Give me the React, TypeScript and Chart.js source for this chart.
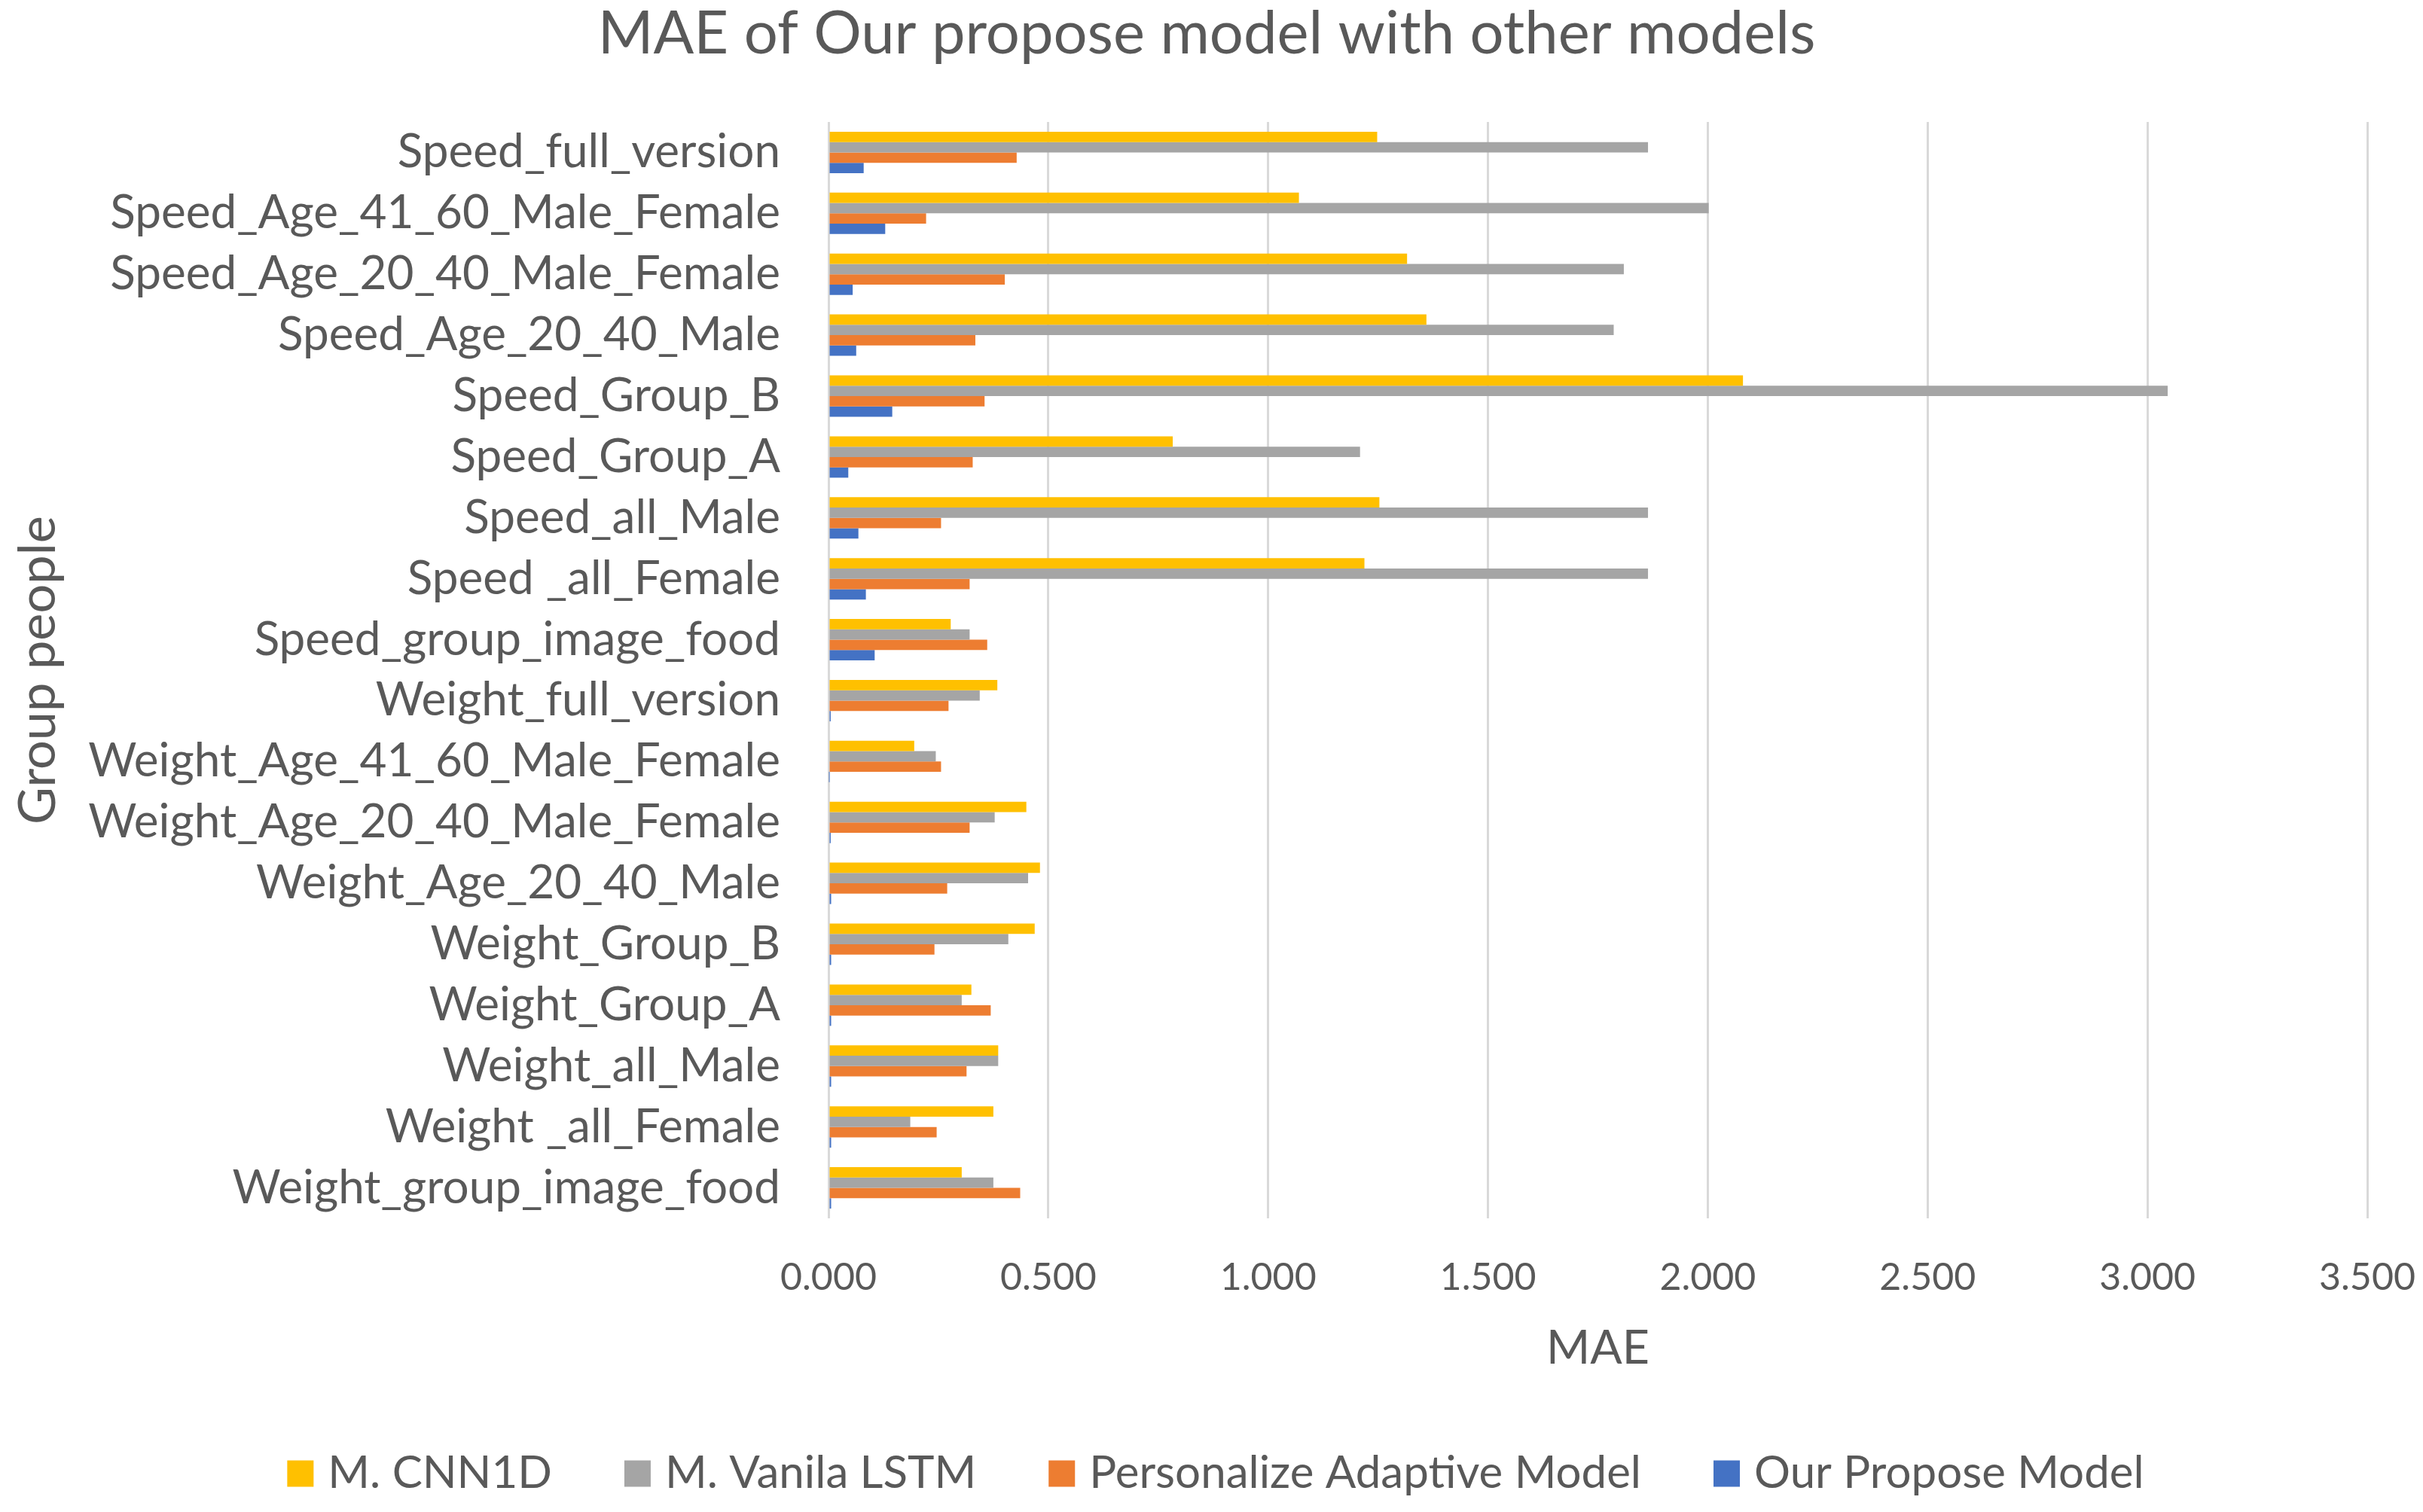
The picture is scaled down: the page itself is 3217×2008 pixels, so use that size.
import React, { useEffect, useRef } from 'react';
import { Chart, registerables } from 'chart.js';

Chart.register(...registerables);

const chartTitle = 'MAE of Our propose model with other models';
const xAxisTitle = 'MAE';
const yAxisTitle = 'Group people';

const categories = [
  'Speed_full_version',
  'Speed_Age_41_60_Male_Female',
  'Speed_Age_20_40_Male_Female',
  'Speed_Age_20_40_Male',
  'Speed_Group_B',
  'Speed_Group_A',
  'Speed_all_Male',
  'Speed _all_Female',
  'Speed_group_image_food',
  'Weight_full_version',
  'Weight_Age_41_60_Male_Female',
  'Weight_Age_20_40_Male_Female',
  'Weight_Age_20_40_Male',
  'Weight_Group_B',
  'Weight_Group_A',
  'Weight_all_Male',
  'Weight _all_Female',
  'Weight_group_image_food',
];

const seriesNames = ['M. CNN1D', 'M. Vanila LSTM', 'Personalize Adaptive Model', 'Our Propose Model'];

const cnn1d = [1.248, 1.07, 1.316, 1.36, 2.08, 0.783, 1.253, 1.219, 0.278, 0.384, 0.195, 0.45, 0.481, 0.469, 0.325, 0.386, 0.375, 0.303];
const vanilaLstm = [1.864, 2.002, 1.809, 1.786, 3.046, 1.209, 1.864, 1.864, 0.321, 0.344, 0.244, 0.378, 0.454, 0.409, 0.303, 0.386, 0.186, 0.375];
const personalize = [0.428, 0.222, 0.401, 0.334, 0.355, 0.328, 0.256, 0.321, 0.361, 0.273, 0.256, 0.321, 0.27, 0.241, 0.369, 0.314, 0.246, 0.436];
const ourModel = [0.08, 0.129, 0.055, 0.063, 0.145, 0.045, 0.068, 0.085, 0.105, 0.005, 0.001, 0.005, 0.006, 0.006, 0.006, 0.006, 0.006, 0.006];

const xTickMin = 0;
const xTickMax = 3.5;
const xTickStep = 0.5;

const colors = ['#FFC000', '#A5A5A5', '#ED7D31', '#4472C4'];
const textColor = '#595959';
const FONT = 'Lato, "Open Sans", sans-serif';

const W = 3217;
const H = 2008;

function fit(text: string, width: number): number {
  const c = document.createElement('canvas').getContext('2d')!;
  c.font = `normal 100px ${FONT}`;
  return (100 * width) / c.measureText(text).width;
}

export default function App() {
  const ref = useRef<HTMLCanvasElement | null>(null);

  useEffect(() => {
    document.body.style.margin = '0';
    document.body.style.overflow = 'hidden';
    const canvas = ref.current!;

    const fTitle = fit(chartTitle, 1617);
    const fCat = fit('Weight_Age_20_40_Male_Female', 919);
    const fTick = fit('0.000', 128);
    const fXT = fit(xAxisTitle, 137);
    const fYT = fit(yAxisTitle, 410);
    const fLeg = fit('Personalize Adaptive Model', 733);

    const plotTop = 162;
    const plotBottom = 1618;
    const plotLeft = 1100;
    const padL = 61;
    const padR = 74;
    const xAxisH = 230;

    const legendPlugin = {
      id: 'customLegend',
      afterDraw(chart: any) {
        const ctx = chart.ctx as CanvasRenderingContext2D;
        ctx.save();
        ctx.font = `normal ${fLeg}px ${FONT}`;
        ctx.textBaseline = 'middle';
        ctx.textAlign = 'left';
        const box = 35;
        const gapText = 19;
        const gapItem = 96;
        const widths = seriesNames.map((s) => ctx.measureText(s).width);
        const total = widths.reduce((a, w) => a + box + gapText + w, 0) + gapItem * (seriesNames.length - 1);
        let x = 1614 - total / 2;
        const cy = 1957;
        seriesNames.forEach((s, i) => {
          ctx.fillStyle = colors[i];
          ctx.fillRect(x, cy - box / 2, box, box);
          ctx.fillStyle = textColor;
          ctx.fillText(s, x + box + gapText, cy);
          x += box + gapText + widths[i] + gapItem;
        });
        ctx.restore();
      },
    };

    const chart = new Chart(canvas, {
      type: 'bar',
      data: {
        labels: categories,
        datasets: [
          { label: seriesNames[0], data: cnn1d, backgroundColor: colors[0] },
          { label: seriesNames[1], data: vanilaLstm, backgroundColor: colors[1] },
          { label: seriesNames[2], data: personalize, backgroundColor: colors[2] },
          { label: seriesNames[3], data: ourModel, backgroundColor: colors[3] },
        ],
      },
      options: {
        indexAxis: 'y',
        animation: false,
        responsive: false,
        devicePixelRatio: 1,
        datasets: { bar: { categoryPercentage: 0.68, barPercentage: 1.0, borderWidth: 0 } },
        layout: { padding: { top: 0, left: padL, right: padR, bottom: H - plotBottom - xAxisH } },
        plugins: {
          legend: { display: false },
          tooltip: { enabled: false },
          title: {
            display: true,
            text: chartTitle,
            color: textColor,
            font: { family: FONT, size: fTitle, weight: 'normal', lineHeight: 1 },
            padding: { top: 45 - fTitle / 2, bottom: plotTop - (45 - fTitle / 2) - fTitle },
          },
        },
        scales: {
          x: {
            type: 'linear',
            position: 'bottom',
            min: xTickMin,
            max: xTickMax,
            grid: { display: true, color: '#D9D9D9', lineWidth: 3, drawTicks: false },
            border: { display: false },
            ticks: {
              stepSize: xTickStep,
              color: textColor,
              font: { family: FONT, size: fTick },
              padding: 79 - 0.6 * fTick,
              maxRotation: 0,
              minRotation: 0,
              callback: (v: any) => Number(v).toFixed(3),
            },
            title: {
              display: true,
              text: xAxisTitle,
              color: textColor,
              font: { family: FONT, size: fXT, lineHeight: 1 },
              padding: { top: 0, bottom: plotBottom + xAxisH - 1791 - fXT / 2 },
            },
            afterFit: (s: any) => {
              s.height = xAxisH;
              s.paddingLeft = 0;
              s.paddingRight = 0;
            },
          },
          y: {
            type: 'category',
            position: 'left',
            grid: { display: false, drawTicks: false },
            border: { display: false },
            ticks: {
              color: textColor,
              font: { family: FONT, size: fCat },
              padding: 64,
              autoSkip: false,
            },
            title: {
              display: true,
              text: yAxisTitle,
              color: textColor,
              font: { family: FONT, size: fYT, lineHeight: 1 },
              padding: { top: 51 - padL - fYT / 2, bottom: 0 },
            },
            afterFit: (s: any) => {
              s.width = plotLeft - padL;
              s.paddingTop = 0;
              s.paddingBottom = 0;
            },
          },
        },
      },
      plugins: [legendPlugin],
    } as any);

    return () => chart.destroy();
  }, []);

  return (
    <div style={{ width: W, height: H, background: '#fff' }}>
      <canvas ref={ref} width={W} height={H} style={{ display: 'block', width: W, height: H }} />
    </div>
  );
}
